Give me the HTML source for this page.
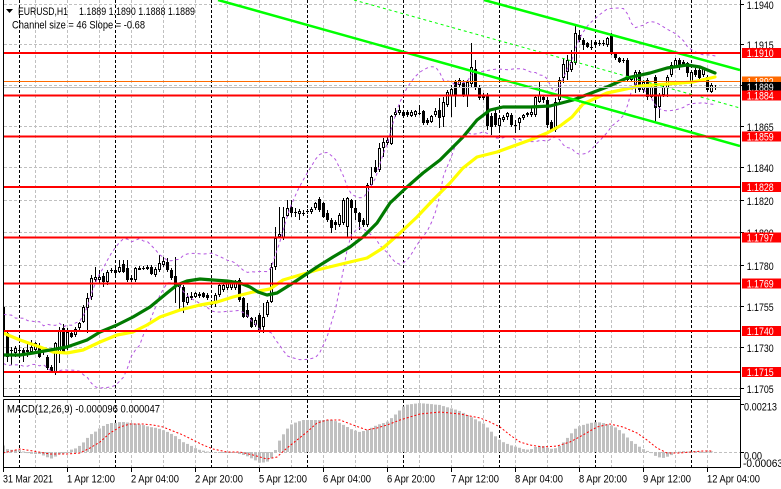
<!DOCTYPE html>
<html><head><meta charset="utf-8"><style>
html,body{margin:0;padding:0;background:#fff;}
svg{display:block;font-family:"Liberation Sans",Arial,sans-serif;font-size:11px;}
</style></head><body>
<svg id="s" width="781" height="489" viewBox="0 0 781 489" xmlns="http://www.w3.org/2000/svg">
<defs>
<clipPath id="cm"><rect x="4" y="0" width="736" height="396"/></clipPath>
<clipPath id="cd"><rect x="4" y="400" width="736" height="67"/></clipPath>
</defs>
<rect width="781" height="489" fill="#fff"/>
<!-- grid -->
<g fill="none" stroke-width="1">
<path stroke="#c0c0c0" stroke-dasharray="3 2" d="M4 4.5H740M4 44.5H740M4 85.5H740M4 126.5H740M4 167.5H740M4 200.5H740M4 232.5H740M4 265.5H740M4 306.5H740M4 347.5H740M4 388.5H740M4 452.5H740"/>
<path stroke="#c0c0c0" stroke-dasharray="3 2" d="M35.5 0V396M67.5 0V396M99.5 0V396M131.5 0V396M163.5 0V396M195.5 0V396M227.5 0V396M259.5 0V396M291.5 0V396M323.5 0V396M355.5 0V396M387.5 0V396M419.5 0V396M451.5 0V396M483.5 0V396M515.5 0V396M547.5 0V396M579.5 0V396M611.5 0V396M643.5 0V396M675.5 0V396M707.5 0V396
M35.5 400V467M67.5 400V467M99.5 400V467M131.5 400V467M163.5 400V467M195.5 400V467M227.5 400V467M259.5 400V467M291.5 400V467M323.5 400V467M355.5 400V467M387.5 400V467M419.5 400V467M451.5 400V467M483.5 400V467M515.5 400V467M547.5 400V467M579.5 400V467M611.5 400V467M643.5 400V467M675.5 400V467M707.5 400V467"/>
<path stroke="#000" stroke-dasharray="3 2" d="M19.5 0V396M115.5 0V396M211.5 0V396M307.5 0V396M403.5 0V396M499.5 0V396M595.5 0V396M691.5 0V396M19.5 400V467M115.5 400V467M211.5 400V467M307.5 400V467M403.5 400V467M499.5 400V467M595.5 400V467M691.5 400V467"/>
</g>
<g clip-path="url(#cm)">
<g id="candles"><path id="wk" fill="none" stroke="#000" stroke-width="1"/><g id="wb" fill="#fff" stroke="#000" stroke-width="1"></g><g id="bb" fill="#000"></g></g>
<polyline id="bu" fill="none" stroke="#b455e0" stroke-width="1" stroke-dasharray="3 3"/>
<polyline id="bd" fill="none" stroke="#b455e0" stroke-width="1" stroke-dasharray="3 3"/>
<polyline fill="none" stroke="#ffff00" stroke-width="3.2" stroke-linejoin="round" stroke-linecap="round" points="3,333 20,340 40,347 53,352 67,353 83,350 100,342 117,335 133,332 147,325 160,317 180,310 200,305 217,302 233,297 253,292 270,289 283,280 317,270 350,262 367,258 383,248 400,233 417,217 433,200 450,183 463,168 477,157 497,152 530,140 547,133 560,126 572,117 583,104 607,93 640,86 693,82 715,77"/>
<polyline fill="none" stroke="#007a00" stroke-width="3.2" stroke-linejoin="round" stroke-linecap="round" points="3,355 20,355 33,353 50,350 67,347 87,340 100,332 117,325 133,317 150,307 167,293 177,285 187,281 200,279 213,280 227,281 240,283 250,287 258,292 267,295 277,293 293,283 317,267 333,257 350,247 363,237 377,223 390,203 407,187 423,173 440,160 453,147 463,137 477,120 490,110 503,107 530,107 550,106 573,100 607,87 627,78 650,73 667,68 687,65 700,67 715,73"/>
<line x1="218" y1="0" x2="740" y2="146" stroke="#00ff00" stroke-width="2.5"/>
<line x1="484" y1="0" x2="740" y2="70" stroke="#00ff00" stroke-width="2.5"/>
<line x1="354" y1="0" x2="740" y2="108" stroke="#00ff00" stroke-width="1" stroke-dasharray="3 3"/>
<g stroke="#ff0000" stroke-width="2">
<path d="M4 53H740M4 95.5H740M4 136.5H740M4 187H740M4 237.5H740M4 283.5H740M4 331H740M4 372H740"/>
</g>
<path d="M4 81.5H740" stroke="#ff6a00" stroke-width="1"/>
<path d="M4 87.5H740" stroke="#c0c0c0" stroke-width="1"/>
</g>
<!-- MACD -->
<g clip-path="url(#cd)">
<g id="hist" fill="#c0c0c0"></g>
<polyline id="sig" fill="none" stroke="#ff0000" stroke-width="1" stroke-dasharray="2 2"/>
</g>
<!-- borders -->
<g fill="none" stroke="#000" stroke-width="1">
<path d="M3.5 0V396.5H740.5M740.5 0V467.5M3.5 399.5H740.5M3.5 399.5V467.5H740.5"/>
<path d="M740.5 4.5H744M740.5 44.5H744M740.5 85.5H744M740.5 126.5H744M740.5 167.5H744M740.5 200.5H744M740.5 232.5H744M740.5 265.5H744M740.5 306.5H744M740.5 347.5H744M740.5 388.5H744M740.5 404.5H744M740.5 452.5H744"/>
<path d="M3.5 467V472M67.5 467V472M131.5 467V472M195.5 467V472M259.5 467V472M323.5 467V472M387.5 467V472M451.5 467V472M515.5 467V472M579.5 467V472M643.5 467V472M707.5 467V472"/>
</g>
<!-- header texts -->
<polygon points="6,9 13,9 9.5,13" fill="#000"/>
<text x="18" y="15" textLength="50" lengthAdjust="spacingAndGlyphs">EURUSD,H1</text>
<text x="79" y="15" textLength="116" lengthAdjust="spacingAndGlyphs">1.1889 1.1890 1.1888 1.1889</text>
<text x="12" y="28.5" textLength="133" lengthAdjust="spacingAndGlyphs">Channel size = 46 Slope = -0.68</text>
<text x="7" y="412.5" textLength="153" lengthAdjust="spacingAndGlyphs">MACD(12,26,9) -0.000096 0.000047</text>
<!-- price axis -->
<g fill="#000">
<text x="746.7" y="9" textLength="27" lengthAdjust="spacingAndGlyphs">1.1940</text>
<text x="746.7" y="49" textLength="27" lengthAdjust="spacingAndGlyphs">1.1915</text>
<text x="746.7" y="90" textLength="27" lengthAdjust="spacingAndGlyphs">1.1890</text>
<text x="746.7" y="131" textLength="27" lengthAdjust="spacingAndGlyphs">1.1865</text>
<text x="746.7" y="172" textLength="27" lengthAdjust="spacingAndGlyphs">1.1840</text>
<text x="746.7" y="205" textLength="27" lengthAdjust="spacingAndGlyphs">1.1820</text>
<text x="746.7" y="237" textLength="27" lengthAdjust="spacingAndGlyphs">1.1800</text>
<text x="746.7" y="270" textLength="27" lengthAdjust="spacingAndGlyphs">1.1780</text>
<text x="746.7" y="311" textLength="27" lengthAdjust="spacingAndGlyphs">1.1755</text>
<text x="746.7" y="352" textLength="27" lengthAdjust="spacingAndGlyphs">1.1730</text>
<text x="746.7" y="393" textLength="27" lengthAdjust="spacingAndGlyphs">1.1705</text>
<text x="744" y="410.5" textLength="33" lengthAdjust="spacingAndGlyphs">0.00213</text>
<text x="744" y="459.5" textLength="18" lengthAdjust="spacingAndGlyphs">0.00</text>
<text x="743" y="467" textLength="40" lengthAdjust="spacingAndGlyphs">-0.00063</text>
</g>
<!-- price label boxes -->
<g>
<rect x="742" y="76.5" width="39" height="10" fill="#ff6a00"/>
<text x="746.7" y="85.5" fill="#fff" textLength="27" lengthAdjust="spacingAndGlyphs">1.1892</text>
<rect x="742" y="82" width="39" height="10" fill="#000"/>
<text x="746.7" y="91" fill="#fff" textLength="27" lengthAdjust="spacingAndGlyphs">1.1889</text>
<rect x="742" y="48" width="39" height="10" fill="#ff0000"/>
<text x="746.7" y="57" fill="#fff" textLength="27" lengthAdjust="spacingAndGlyphs">1.1910</text>
<rect x="742" y="90.5" width="39" height="10" fill="#ff0000"/>
<text x="746.7" y="99.5" fill="#fff" textLength="27" lengthAdjust="spacingAndGlyphs">1.1884</text>
<rect x="742" y="131.5" width="39" height="10" fill="#ff0000"/>
<text x="746.7" y="140.5" fill="#fff" textLength="27" lengthAdjust="spacingAndGlyphs">1.1859</text>
<rect x="742" y="182" width="39" height="10" fill="#ff0000"/>
<text x="746.7" y="191" fill="#fff" textLength="27" lengthAdjust="spacingAndGlyphs">1.1828</text>
<rect x="742" y="232.5" width="39" height="10" fill="#ff0000"/>
<text x="746.7" y="241.5" fill="#fff" textLength="27" lengthAdjust="spacingAndGlyphs">1.1797</text>
<rect x="742" y="278.5" width="39" height="10" fill="#ff0000"/>
<text x="746.7" y="287.5" fill="#fff" textLength="27" lengthAdjust="spacingAndGlyphs">1.1769</text>
<rect x="742" y="326" width="39" height="10" fill="#ff0000"/>
<text x="746.7" y="335" fill="#fff" textLength="27" lengthAdjust="spacingAndGlyphs">1.1740</text>
<rect x="742" y="367" width="39" height="10" fill="#ff0000"/>
<text x="746.7" y="376" fill="#fff" textLength="27" lengthAdjust="spacingAndGlyphs">1.1715</text>
</g>
<!-- time axis -->
<g fill="#000">
<text x="3" y="482.5" textLength="50" lengthAdjust="spacingAndGlyphs">31 Mar 2021</text>
<text x="67" y="482.5" textLength="48" lengthAdjust="spacingAndGlyphs">1 Apr 12:00</text>
<text x="131" y="482.5" textLength="48" lengthAdjust="spacingAndGlyphs">2 Apr 04:00</text>
<text x="195" y="482.5" textLength="48" lengthAdjust="spacingAndGlyphs">2 Apr 20:00</text>
<text x="259" y="482.5" textLength="48" lengthAdjust="spacingAndGlyphs">5 Apr 12:00</text>
<text x="323" y="482.5" textLength="48" lengthAdjust="spacingAndGlyphs">6 Apr 04:00</text>
<text x="387" y="482.5" textLength="48" lengthAdjust="spacingAndGlyphs">6 Apr 20:00</text>
<text x="451" y="482.5" textLength="48" lengthAdjust="spacingAndGlyphs">7 Apr 12:00</text>
<text x="515" y="482.5" textLength="48" lengthAdjust="spacingAndGlyphs">8 Apr 04:00</text>
<text x="579" y="482.5" textLength="48" lengthAdjust="spacingAndGlyphs">8 Apr 20:00</text>
<text x="643" y="482.5" textLength="48" lengthAdjust="spacingAndGlyphs">9 Apr 12:00</text>
<text x="707" y="482.5" textLength="53" lengthAdjust="spacingAndGlyphs">12 Apr 04:00</text>
</g>
</svg>
<script>
(function(){
var C=[[305,333,307,333],[332,362,333,357],[347,365,350,351],[346,357,353,348],[348,355,350,351],[348,362,350,353],[343,357,352,350],[340,353,352,347],[342,352,350,343],[343,358,347,357],
[347,355,351,350],[355,370,357,368],[365,373,367,372],[342,375,372,343],[327,363,352,330],[324,353,328,352],[328,350,348,332],[330,338,333,337],[327,337,335,329],[322,330,328,323],
[305,323,322,307],[293,333,308,298],[275,300,297,278],[267,282,280,277],[270,283,280,277],[273,287,276,282],[270,285,282,272],[268,273,271,270],[268,275,270,273],[260,273,272,267],
[260,273,264,272],[260,282,268,280],[275,282,280,278],[267,282,280,268],[266,270,270,268],[266,270,268,268],[265,270,269,267],[265,275,267,274],[267,277,275,269],[255,272,270,263],
[257,267,265,261],[258,272,262,270],[268,280,270,278],[257,303,276,285],[283,310,287,285],[285,313,287,302],[293,305,303,297],[292,300,298,296],[292,298,297,293],[292,298,294,296],
[292,298,293,297],[293,300,295,298],[302,308,303,305],[293,307,302,295],[283,297,295,285],[283,292,290,285],[280,290,288,282],[280,290,288,283],[280,290,288,282],[278,302,280,300],
[297,318,298,317],[303,318,310,317],[317,328,318,327],[317,327,325,320],[313,333,315,330],[303,333,327,317],[300,317,315,302],[263,303,302,267],[227,270,267,238],[207,238,237,234],
[207,240,238,217],[200,217,216,208],[200,217,207,213],[208,217,212,213],[209,220,214,211],[210,216,213,213],[209,214,211,211],[207,214,212,209],[202,210,208,203],[197,212,199,210],
[202,218,203,217],[210,222,213,220],[218,233,220,228],[220,230,222,225],[213,227,225,215],[198,225,223,200],[197,238,227,198],[199,240,200,208],[200,220,208,213],[212,230,213,222],
[218,227,220,225],[183,227,225,185],[167,187,185,177],[160,173,167,172],[143,172,170,148],[138,157,148,142],[137,145,143,140],[115,145,144,116],[108,117,115,112],[105,115,113,110],
[110,117,112,116],[110,117,112,115],[110,117,116,112],[110,117,115,111],[105,115,113,113],[110,125,111,123],[118,125,120,123],[115,123,122,116],[108,117,115,111],[98,128,110,118],
[97,127,117,102],[90,107,105,92],[85,117,96,89],[80,107,82,96],[78,87,85,80],[80,97,83,96],[80,107,96,82],[43,87,84,67],[60,90,69,88],[85,100,87,98],
[93,100,96,98],[93,130,96,126],[113,135,116,127],[110,127,113,125],[115,130,126,118],[115,122,120,117],[112,120,117,113],[113,127,115,125],[120,133,125,126],[117,130,123,118],
[114,120,118,115],[112,117,115,113],[108,117,115,112],[95,117,115,97],[82,103,102,95],[95,103,97,100],[97,128,100,125],[120,132,122,130],[98,132,130,102],[77,105,100,80],
[58,83,78,64],[55,80,72,60],[50,72,70,62],[25,65,63,33],[30,42,35,40],[38,50,40,45],[42,48,43,47],[40,50,47,48],[40,47,42,45],[40,46,43,43],
[40,46,43,43],[37,47,45,38],[33,55,35,53],[52,60,53,58],[57,63,58,62],[58,63,60,61],[58,82,60,80],[76,81,80,77],[70,93,85,72],[70,92,72,90],
[80,93,90,82],[78,100,80,97],[85,98,97,87],[75,122,77,108],[93,118,107,95],[85,97,95,87],[75,97,88,77],[62,77,75,65],[58,68,67,60],[58,70,60,67],
[60,66,62,65],[62,77,63,73],[70,85,82,72],[68,77,70,75],[68,80,70,78],[67,77,75,68],[75,92,77,90],[83,93,92,85],[85,90,87,87]];
var w='',wb='',bb='',i,x;
for(i=0;i<C.length;i++){x=3.5+4*i;var c=C[i],h=c[0],l=c[1],o=c[2],cl=c[3];
 w+='M'+x+' '+h+'V'+l;
 var t=Math.min(o,cl),b=Math.max(o,cl);
 if(b-t<1.5){w+='M'+(x-1.5)+' '+(t+0.5)+'H'+(x+1.5);}
 else if(cl<o){wb+='<rect x="'+(x-1)+'" y="'+(t+0.5)+'" width="2" height="'+(b-t-1)+'"/>';}
 else{bb+='<rect x="'+(x-1.5)+'" y="'+t+'" width="3" height="'+(b-t)+'"/>';}
}
document.getElementById('wk').setAttribute('d',w);
document.getElementById('wb').innerHTML=wb;
document.getElementById('bb').innerHTML=bb;
var pad=[330,355,320,350,340,325,360,335,345,320,350,330,340,360,325,345,335,350,330];
var cls=pad.concat(C.map(function(c){return c[3];}));
var up='',dn='';
for(i=0;i<C.length;i++){x=3.5+4*i;var s=0,q=0,k;
 for(k=i;k<i+20;k++)s+=cls[k];var m=s/20;
 for(k=i;k<i+20;k++)q+=(cls[k]-m)*(cls[k]-m);var sd=Math.sqrt(q/20);
 up+=x+','+(m-2*sd).toFixed(1)+' ';dn+=x+','+(m+2*sd).toFixed(1)+' ';}
document.getElementById('bu').setAttribute('points',up);
document.getElementById('bd').setAttribute('points',dn);
function interp(P,x){if(x<=P[0][0])return P[0][1];for(var j=1;j<P.length;j++){if(x<=P[j][0]){var a=P[j-1],b=P[j];return a[1]+(b[1]-a[1])*(x-a[0])/(b[0]-a[0]);}}return P[P.length-1][1];}
var H=[[3,445],[7,449],[13,450],[20,450],[27,453],[33,454],[40,454],[47,457],[50,459],[53,458],[60,454],[67,453],[70,450],[77,448],[83,443],[90,435],[95,432],[100,428],[105,425],[110,423],[115,423],[120,422],[125,422],[130,423],[137,424],[143,425],[150,427],[157,428],[163,430],[170,433],[177,437],[183,442],[190,445],[195,448],[200,450],[210,452],[217,453],[233,452],[247,456],[253,459],[260,463],[267,462],[273,457],[278,443],[283,435],[290,425],[297,422],[303,420],[310,420],[333,420],[340,423],[353,430],[360,432],[367,430],[377,425],[387,422],[395,415],[405,405],[420,403],[440,405],[460,411],[473,418],[483,423],[490,430],[497,438],[503,442],[510,445],[517,447],[523,449],[530,450],[537,446],[543,446],[550,449],[557,448],[563,443],[570,435],[577,427],[583,425],[590,423],[597,422],[603,423],[610,425],[617,428],[623,433],[630,440],[637,445],[643,449],[650,452],[657,457],[663,458],[670,456],[677,452],[683,451],[690,452],[697,451],[703,452],[710,451],[715,452]];
var hb='',Z=452;
for(i=0;i<C.length;i++){x=3.5+4*i;var y=interp(H,x);var t2=Math.min(y,Z),b2=Math.max(y,Z);if(b2-t2<1){b2=t2+1;}
 hb+='<rect x="'+(x-1.5)+'" y="'+t2.toFixed(1)+'" width="3" height="'+(b2-t2).toFixed(1)+'"/>';}
document.getElementById('hist').innerHTML=hb;
var S=[[3,453],[20,449],[33,451],[50,454],[67,454],[80,453],[90,448],[100,442],[110,433],[120,427],[130,424],[143,424],[153,425],[163,427],[173,431],[183,435],[193,440],[203,445],[213,449],[227,452],[240,452],[253,455],[267,459],[277,457],[287,448],[297,440],[307,432],[317,423],[327,420],[340,420],[353,425],[367,430],[377,428],[387,425],[400,420],[420,414],[440,412],[460,414],[480,418],[490,422],[500,427],[510,435],[520,442],[530,445],[543,447],[557,446],[570,442],[583,435],[597,427],[610,424],[623,427],[637,433],[647,440],[657,448],[667,453],[680,453],[690,452],[703,451],[713,451]];
document.getElementById('sig').setAttribute('points',S.map(function(p){return p[0]+','+p[1];}).join(' '));
})();
</script>
</body></html>
